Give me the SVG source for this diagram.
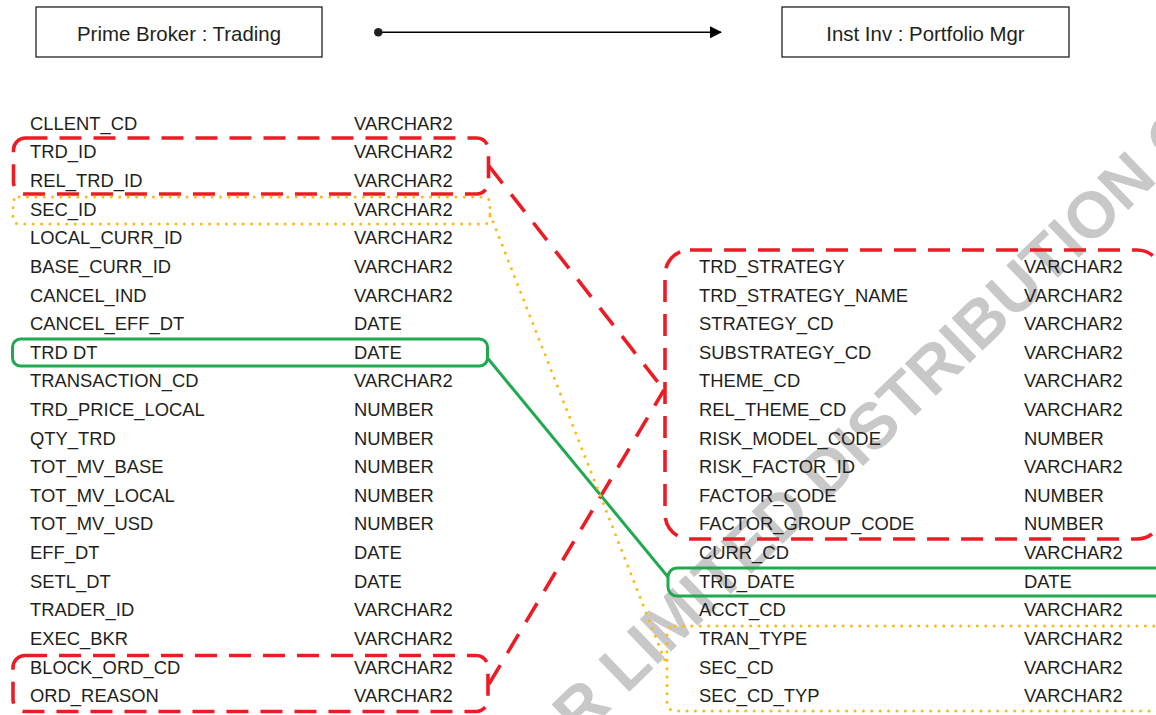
<svg xmlns="http://www.w3.org/2000/svg" width="1156" height="715" viewBox="0 0 1156 715">
<defs>
<style>
.t{font-family:"Liberation Sans",Arial,sans-serif;font-size:18.4px;fill:#231f20}
.h{font-family:"Liberation Sans",Arial,sans-serif;font-size:20.4px;fill:#231f20;text-anchor:middle}
.hb{fill:#fff;stroke:#231f20;stroke-width:1.3}
.red{fill:none;stroke:#ed1c24;stroke-width:3.6;stroke-dasharray:22 12}
.redc{fill:none;stroke:#ed1c24;stroke-width:3.6;stroke-dasharray:22 14}
.yel{fill:none;stroke:#fdb913;stroke-width:3;stroke-linecap:round;stroke-dasharray:0 8.4}
.grn{fill:none;stroke:#1faa4f;stroke-width:3}
.wm{font-family:"Liberation Sans",Arial,sans-serif;font-weight:bold;font-size:65px;fill:#c8c8c8}
</style>
<marker id="ah" viewBox="0 0 12 12" markerWidth="12" markerHeight="12" refX="11" refY="6" orient="auto" markerUnits="userSpaceOnUse">
<path d="M0,0 L12,6 L0,12 Z" fill="#000"/>
</marker>
</defs>
<rect width="1156" height="715" fill="#fff"/>
<g id="watermark" transform="translate(843.2,485.2) rotate(-44)">
<text class="wm" x="-456.8" y="0">FOR LIMITED DISTRIBUTION ONLY</text>
</g>
<g id="node-prime-broker">
<rect class="hb" x="36" y="7" width="286" height="50"/>
<text class="h" x="179" y="40.7">Prime Broker : Trading</text>
</g>
<g id="node-inst-inv">
<rect class="hb" x="782" y="7" width="287" height="50"/>
<text class="h" x="925.5" y="40.7">Inst Inv : Portfolio Mgr</text>
</g>
<g id="node-left-table">
<text class="t" x="30" y="129.8">CLLENT_CD</text><text class="t" x="354" y="129.8">VARCHAR2</text>
<text class="t" x="30" y="158.42">TRD_ID</text><text class="t" x="354" y="158.42">VARCHAR2</text>
<text class="t" x="30" y="187.04">REL_TRD_ID</text><text class="t" x="354" y="187.04">VARCHAR2</text>
<text class="t" x="30" y="215.66">SEC_ID</text><text class="t" x="354" y="215.66">VARCHAR2</text>
<text class="t" x="30" y="244.28">LOCAL_CURR_ID</text><text class="t" x="354" y="244.28">VARCHAR2</text>
<text class="t" x="30" y="272.9">BASE_CURR_ID</text><text class="t" x="354" y="272.9">VARCHAR2</text>
<text class="t" x="30" y="301.52">CANCEL_IND</text><text class="t" x="354" y="301.52">VARCHAR2</text>
<text class="t" x="30" y="330.14">CANCEL_EFF_DT</text><text class="t" x="354" y="330.14">DATE</text>
<text class="t" x="30" y="358.76">TRD DT</text><text class="t" x="354" y="358.76">DATE</text>
<text class="t" x="30" y="387.38">TRANSACTION_CD</text><text class="t" x="354" y="387.38">VARCHAR2</text>
<text class="t" x="30" y="416">TRD_PRICE_LOCAL</text><text class="t" x="354" y="416">NUMBER</text>
<text class="t" x="30" y="444.62">QTY_TRD</text><text class="t" x="354" y="444.62">NUMBER</text>
<text class="t" x="30" y="473.24">TOT_MV_BASE</text><text class="t" x="354" y="473.24">NUMBER</text>
<text class="t" x="30" y="501.86">TOT_MV_LOCAL</text><text class="t" x="354" y="501.86">NUMBER</text>
<text class="t" x="30" y="530.48">TOT_MV_USD</text><text class="t" x="354" y="530.48">NUMBER</text>
<text class="t" x="30" y="559.1">EFF_DT</text><text class="t" x="354" y="559.1">DATE</text>
<text class="t" x="30" y="587.72">SETL_DT</text><text class="t" x="354" y="587.72">DATE</text>
<text class="t" x="30" y="616.34">TRADER_ID</text><text class="t" x="354" y="616.34">VARCHAR2</text>
<text class="t" x="30" y="644.96">EXEC_BKR</text><text class="t" x="354" y="644.96">VARCHAR2</text>
<text class="t" x="30" y="673.58">BLOCK_ORD_CD</text><text class="t" x="354" y="673.58">VARCHAR2</text>
<text class="t" x="30" y="702.2">ORD_REASON</text><text class="t" x="354" y="702.2">VARCHAR2</text>
</g>
<g id="node-right-table">
<text class="t" x="699" y="272.9">TRD_STRATEGY</text><text class="t" x="1024" y="272.9">VARCHAR2</text>
<text class="t" x="699" y="301.52">TRD_STRATEGY_NAME</text><text class="t" x="1024" y="301.52">VARCHAR2</text>
<text class="t" x="699" y="330.14">STRATEGY_CD</text><text class="t" x="1024" y="330.14">VARCHAR2</text>
<text class="t" x="699" y="358.76">SUBSTRATEGY_CD</text><text class="t" x="1024" y="358.76">VARCHAR2</text>
<text class="t" x="699" y="387.38">THEME_CD</text><text class="t" x="1024" y="387.38">VARCHAR2</text>
<text class="t" x="699" y="416">REL_THEME_CD</text><text class="t" x="1024" y="416">VARCHAR2</text>
<text class="t" x="699" y="444.62">RISK_MODEL_CODE</text><text class="t" x="1024" y="444.62">NUMBER</text>
<text class="t" x="699" y="473.24">RISK_FACTOR_ID</text><text class="t" x="1024" y="473.24">VARCHAR2</text>
<text class="t" x="699" y="501.86">FACTOR_CODE</text><text class="t" x="1024" y="501.86">NUMBER</text>
<text class="t" x="699" y="530.48">FACTOR_GROUP_CODE</text><text class="t" x="1024" y="530.48">NUMBER</text>
<text class="t" x="699" y="559.1">CURR_CD</text><text class="t" x="1024" y="559.1">VARCHAR2</text>
<text class="t" x="699" y="587.72">TRD_DATE</text><text class="t" x="1024" y="587.72">DATE</text>
<text class="t" x="699" y="616.34">ACCT_CD</text><text class="t" x="1024" y="616.34">VARCHAR2</text>
<text class="t" x="699" y="644.96">TRAN_TYPE</text><text class="t" x="1024" y="644.96">VARCHAR2</text>
<text class="t" x="699" y="673.58">SEC_CD</text><text class="t" x="1024" y="673.58">VARCHAR2</text>
<text class="t" x="699" y="702.2">SEC_CD_TYP</text><text class="t" x="1024" y="702.2">VARCHAR2</text>
</g>
<g id="highlights">
<rect class="red" x="13.5" y="138" width="475" height="56" rx="12"/>
<rect class="yel" x="13" y="197" width="477" height="27" rx="6"/>
<rect class="grn" x="12.5" y="339" width="475" height="27" rx="8"/>
<rect class="red" x="13" y="655.5" width="475" height="56" rx="12"/>
<rect class="red" x="665" y="250" width="497" height="289" rx="25"/>
<rect class="grn" x="668" y="568" width="500" height="28" rx="9"/>
<rect class="yel" x="667" y="626" width="500" height="85" rx="8"/>
</g>
<g id="connectors">
<line x1="378" y1="32.3" x2="721" y2="32.3" stroke="#000" stroke-width="1.6" marker-end="url(#ah)"/>
<circle cx="378.3" cy="32.3" r="4.3" fill="#231f20"/>
<line class="redc" x1="489" y1="166" x2="664" y2="390"/>
<line class="redc" x1="489" y1="684" x2="664" y2="390"/>
<line class="grn" x1="487.5" y1="358" x2="668" y2="577"/>
<line class="yel" x1="490" y1="214" x2="667" y2="666"/>
</g>
</svg>
